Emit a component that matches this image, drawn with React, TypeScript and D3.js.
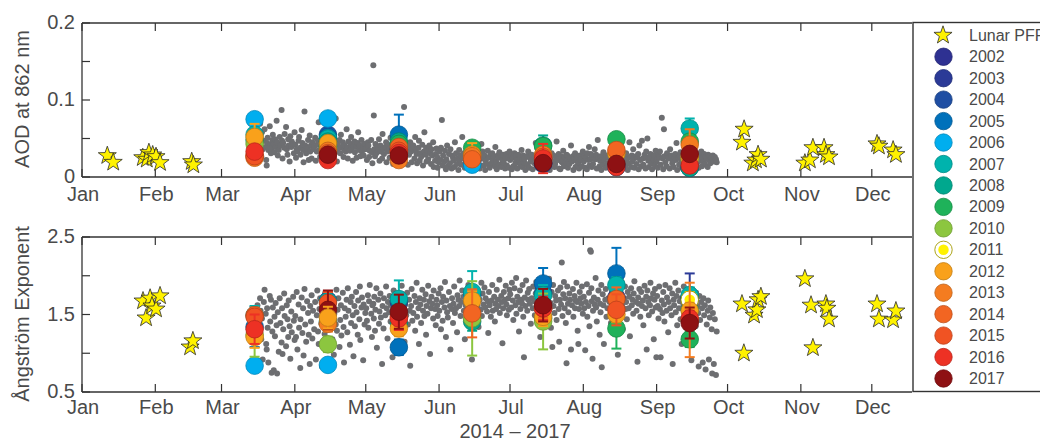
import React from 'react';
import * as d3 from 'd3';

// ---- data -------------------------------------------------------------

const monthStarts = [0, 31, 59, 90, 120, 151, 181, 212, 243, 273, 304, 334];
const monthLabels = ['Jan', 'Feb', 'Mar', 'Apr', 'May', 'Jun', 'Jul', 'Aug', 'Sep', 'Oct', 'Nov', 'Dec'];

const aodTicks = [0, 0.05, 0.1, 0.15, 0.2];
const aodTickLabels = ['0', '', '0.1', '', '0.2'];
const alphaTicks = [0.5, 1, 1.5, 2, 2.5];
const alphaTickLabels = ['0.5', '', '1.5', '', '2.5'];

// mid-month day of year for the monthly climatology (Mar .. Sep)
const midMonthDays = [73, 104, 134, 165, 195, 226, 257];

const years = [2002, 2003, 2004, 2005, 2006, 2007, 2008, 2009, 2010, 2011, 2012, 2013, 2014, 2015, 2016, 2017];

// Lunar photometer, [day of year, AOD]
const lunarAod: [number, number][] = [
  [10.7, 0.0277], [13.2, 0.019], [25.7, 0.025], [27.4, 0.023], [28.3, 0.0316], [29.9, 0.0286],
  [31.3, 0.0264], [33, 0.0186], [46.4, 0.0199], [47.1, 0.0156],
  [279.1, 0.045], [280, 0.062], [283.7, 0.018], [285, 0.022], [285.9, 0.029], [287.1, 0.023],
  [305.7, 0.018], [307.8, 0.022], [309.1, 0.038], [313.8, 0.038], [314.6, 0.029], [315.9, 0.026],
  [336.2, 0.043], [337, 0.04], [343, 0.035], [344.2, 0.029],
];

// Lunar photometer, [day of year, Angstrom exponent]
const lunarAlpha: [number, number][] = [
  [25.8, 1.674], [27.1, 1.455], [28.8, 1.71], [29.6, 1.61], [31.3, 1.57], [33, 1.74],
  [45.7, 1.08], [46.9, 1.16],
  [279.1, 1.635], [279.9, 1.0], [284.2, 1.49], [285.4, 1.56], [285.9, 1.69], [287.1, 1.73],
  [305.7, 1.96], [308.3, 1.62], [309.1, 1.07], [314.6, 1.635], [315, 1.58], [315.9, 1.44],
  [336.2, 1.635], [337, 1.44], [343, 1.43], [344.2, 1.545],
];

// Sun photometer 2014-2017, [day of year, AOD 862 nm, Angstrom exponent]
const sunObs: [number, number, number][] = [
  [74.2,0.045,1.62],[74.6,0.038,1.38],[74.9,0.052,1.25],[75.3,0.069,1.71],[75.5,0.041,1.55],[75.8,0.027,1.18],
  [76.1,0.058,1.45],[76.4,0.036,0.92],[76.9,0.047,1.66],[77.2,0.062,1.82],[77.7,0.039,1.51],[77.9,0.022,1.12],
  [78.3,0.044,1.58],[78.5,0.051,1.33],[78.8,0.035,0.88],[78.1,0.015,1.05],[79.4,0.066,1.74],[79.6,0.042,1.41],
  [79.9,0.031,1.69],[80.2,0.037,0.75],[80.5,0.048,1.28],[80.7,0.055,1.59],[81.1,0.043,0.78],[81.4,0.032,1.47],
  [81.6,0.049,1.22],[81.9,0.039,1.65],[82.3,0.073,1.36],[82.5,0.045,0.74],[82.8,0.028,1.53],[83.2,0.035,1.02],
  [83.6,0.052,1.71],[83.9,0.041,1.39],[84.4,0.087,1.14],[84.6,0.047,1.58],[84.8,0.024,0.99],[85.1,0.044,1.31],
  [85.5,0.038,1.77],[85.7,0.056,1.48],[86.3,0.065,1.09],[86.6,0.036,1.62],[86.9,0.029,1.44],[87.2,0.049,1.21],
  [87.4,0.041,1.68],[87.8,0.020,1.35],[88.1,0.053,0.93],[88.5,0.039,1.54],[88.7,0.046,1.27],[89.3,0.043,1.73],
  [89.6,0.031,1.42],[89.9,0.058,1.17],
  [90.2,0.042,1.48],[90.5,0.025,1.21],[90.8,0.036,1.79],[91.1,0.033,1.05],[91.6,0.047,1.63],[91.8,0.052,1.33],
  [92.3,0.038,0.81],[92.4,0.029,1.44],[92.9,0.061,1.72],[93.2,0.044,1.26],[93.5,0.035,1.58],[93.7,0.019,0.97],
  [94.1,0.085,1.83],[94.4,0.041,1.37],[94.8,0.031,1.15],[95.2,0.037,1.67],[95.6,0.048,1.52],[95.9,0.022,1.24],
  [96.3,0.054,0.86],[96.5,0.033,1.61],[96.8,0.041,1.41],[97.1,0.024,1.75],[97.4,0.045,1.19],[97.7,0.036,1.55],
  [98.2,0.039,1.31],[98.6,0.051,1.66],[98.9,0.021,0.92],[99.3,0.033,1.49],[99.5,0.042,1.81],[99.8,0.047,1.28],
  [100.1,0.071,1.12],[100.4,0.035,1.57],[100.7,0.026,1.71],[101.2,0.043,1.38],[101.5,0.031,0.83],[101.9,0.038,1.63],
  [102.2,0.023,1.54],[102.6,0.049,1.25],[102.8,0.034,1.77],[103.3,0.058,1.46],[103.5,0.037,1.06],[103.7,0.029,1.69],
  [104.2,0.044,1.33],[104.8,0.032,1.59],[105.1,0.039,1.74],[105.4,0.053,1.42],[105.9,0.027,1.18],[106.2,0.035,1.65],
  [106.5,0.046,0.98],[106.7,0.041,1.51],[107.3,0.076,1.37],[107.6,0.033,1.82],[107.8,0.020,1.29],[108.1,0.042,1.56],
  [108.4,0.037,1.71],[108.9,0.048,1.08],[109.2,0.031,1.43],[109.5,0.055,1.62],[109.7,0.039,1.23],[110.3,0.045,1.78],
  [110.6,0.026,1.34],[110.8,0.036,0.88],[111.1,0.041,1.58],[111.5,0.033,1.47],[111.9,0.062,1.69],[112.2,0.038,1.27],
  [112.4,0.024,1.84],[112.7,0.046,1.55],[113.3,0.034,1.11],[113.6,0.043,1.66],[113.8,0.052,1.39],[114.1,0.037,1.73],
  [114.5,0.021,1.49],[114.8,0.040,0.96],[115.2,0.046,1.61],[115.4,0.032,1.35],[115.9,0.039,1.79],[116.1,0.025,1.53],
  [116.6,0.044,1.24],[116.8,0.058,1.68],[117.3,0.035,1.44],[117.5,0.041,1.86],[117.7,0.027,1.17],[118.2,0.048,1.59],
  [118.4,0.033,1.72],[118.9,0.038,0.91],[119.1,0.028,1.63],[119.5,0.043,1.37],[119.8,0.036,1.52],
  [120.2,0.037,1.58],[120.5,0.022,1.42],[120.9,0.045,1.75],[121.1,0.041,1.33],[121.4,0.026,1.67],[121.7,0.034,1.88],
  [122.3,0.048,1.51],[122.6,0.032,1.21],[122.8,0.018,1.62],[123.2,0.145,1.64],[123.4,0.080,1.45],[123.6,0.036,1.73],
  [123.9,0.027,1.29],[124.1,0.043,1.56],[124.5,0.031,1.84],[124.7,0.039,1.07],[125.3,0.035,1.69],[125.6,0.049,1.38],
  [125.8,0.021,1.54],[126.2,0.041,1.77],[126.4,0.033,1.46],[126.9,0.024,0.86],[127.1,0.056,1.61],[127.5,0.037,1.32],
  [127.7,0.030,1.71],[128.3,0.039,1.49],[128.6,0.045,1.86],[128.8,0.019,1.58],[129.2,0.033,1.19],[129.4,0.042,1.66],
  [129.9,0.036,1.53],[130.1,0.025,1.74],[130.5,0.051,1.41],[130.7,0.038,1.62],[131.3,0.034,0.95],[131.6,0.017,1.57],
  [131.8,0.044,1.81],[132.2,0.040,1.36],[132.4,0.029,1.69],[132.9,0.037,1.48],[133.1,0.022,1.59],[133.5,0.047,1.77],
  [133.7,0.035,1.26],[134.3,0.032,1.64],[134.8,0.041,1.52],[135.2,0.038,1.87],[135.5,0.020,1.44],[135.9,0.030,1.71],
  [136.2,0.091,1.58],[136.4,0.034,1.15],[136.7,0.027,1.63],[137.1,0.043,1.49],[137.5,0.036,1.78],[137.8,0.016,1.37],
  [138.3,0.029,1.69],[138.6,0.039,1.55],[138.8,0.045,0.84],[139.2,0.033,1.61],[139.4,0.019,1.83],[139.7,0.037,1.42],
  [140.1,0.041,1.52],[140.6,0.024,1.74],[140.9,0.052,1.29],[141.2,0.035,1.66],[141.5,0.030,1.91],[141.7,0.018,1.47],
  [142.3,0.038,1.58],[142.5,0.047,1.12],[142.8,0.021,1.71],[143.1,0.031,1.63],[143.4,0.026,1.39],[143.9,0.042,1.82],
  [144.2,0.015,1.55],[144.6,0.033,1.69],[144.8,0.058,1.48],[145.3,0.029,1.76],[145.5,0.038,1.24],[145.7,0.020,1.61],
  [146.1,0.034,1.51],[146.4,0.023,1.87],[146.9,0.041,1.67],[147.2,0.031,0.99],[147.6,0.017,1.58],[147.8,0.036,1.73],
  [148.1,0.028,1.64],[148.5,0.045,1.45],[148.7,0.013,1.81],[149.3,0.021,1.57],[149.6,0.030,1.36],[149.9,0.037,1.69],
  [150.2,0.026,1.62],[150.4,0.012,1.48],[150.8,0.019,1.77],[151.1,0.033,1.55],[151.6,0.022,1.84],[151.8,0.038,1.31],
  [152.2,0.074,1.66],[152.5,0.015,1.42],[152.7,0.028,1.73],[153.3,0.020,1.59],[153.5,0.034,1.92],[153.9,0.010,1.21],
  [154.1,0.023,1.68],[154.4,0.041,1.53],[154.7,0.014,1.46],[155.2,0.030,1.79],[155.6,0.018,1.61],[155.8,0.036,1.05],
  [156.3,0.011,1.57],[156.5,0.028,1.71],[156.9,0.025,1.39],[157.1,0.021,1.64],[157.4,0.013,1.86],[157.7,0.045,1.52],
  [158.2,0.031,1.58],[158.6,0.017,1.27],[158.8,0.024,1.75],[159.2,0.009,1.69],[159.5,0.035,1.61],[159.7,0.022,1.94],
  [160.1,0.028,1.48],[160.4,0.016,1.66],[160.8,0.052,1.81],[161.3,0.024,1.73],[161.5,0.031,1.55],[161.9,0.012,1.18],
  [162.2,0.027,1.62],[162.6,0.019,1.79],[162.8,0.036,1.43],[163.1,0.014,1.57],[163.4,0.029,1.88],[163.7,0.022,1.69],
  [164.3,0.032,1.51],[164.5,0.010,1.64],[164.9,0.025,0.92],[165.2,0.018,1.76],[165.7,0.028,1.58],[166.1,0.035,1.67],
  [166.4,0.024,1.45],[166.8,0.013,1.82],[167.3,0.020,1.61],[167.5,0.030,1.73],[167.7,0.016,1.34],[168.2,0.011,1.69],
  [168.6,0.027,1.56],[168.9,0.043,1.91],[169.1,0.024,1.48],[169.4,0.033,1.77],[169.8,0.015,1.63],[170.2,0.028,1.85],
  [170.5,0.009,1.59],[170.7,0.021,1.71],[171.3,0.017,1.54],[171.6,0.034,1.67],[171.8,0.025,1.26],[172.1,0.026,1.79],
  [172.4,0.012,1.62],[172.9,0.030,1.47],[173.2,0.018,1.68],[173.5,0.031,1.88],[173.7,0.022,1.55],[174.3,0.027,1.73],
  [174.6,0.014,1.41],[174.8,0.039,1.64],[175.1,0.020,1.57],[175.4,0.010,1.82],[175.9,0.028,1.69],[176.2,0.025,1.61],
  [176.5,0.032,1.95],[176.7,0.016,1.52],[177.3,0.013,1.74],[177.6,0.027,1.66],[177.8,0.021,1.13],[178.1,0.029,1.58],
  [178.4,0.018,1.79],[178.9,0.011,1.69],[179.2,0.024,1.87],[179.5,0.030,1.63],[179.7,0.015,1.49],[180.3,0.026,1.71],
  [180.5,0.012,1.56],[180.8,0.033,1.82],
  [181.1,0.022,1.76],[181.5,0.028,1.59],[181.8,0.010,1.91],[182.2,0.025,1.68],[182.4,0.014,1.43],[182.9,0.031,1.84],
  [183.3,0.018,1.62],[183.6,0.027,1.97],[183.7,0.022,1.51],[184.1,0.011,1.73],[184.5,0.029,1.66],[184.8,0.020,1.28],
  [185.2,0.026,1.81],[185.4,0.016,1.57],[185.9,0.035,1.69],[186.1,0.013,1.64],[186.3,0.023,1.88],[186.6,0.028,1.47],
  [186.9,0.019,0.95],[187.2,0.024,1.72],[187.5,0.009,1.61],[187.8,0.017,1.94],[188.3,0.027,1.55],[188.5,0.015,1.78],
  [188.7,0.033,1.69],[189.1,0.012,1.83],[189.4,0.025,1.64],[189.8,0.020,1.38],[190.2,0.029,1.71],[190.6,0.010,1.58],
  [190.8,0.021,1.86],[191.3,0.018,1.67],[191.5,0.026,1.49],[191.9,0.044,1.77],[192.1,0.024,1.92],[192.4,0.013,1.63],
  [192.7,0.030,1.55],[193.2,0.011,1.74],[193.6,0.022,1.81],[193.8,0.027,1.21],[194.1,0.019,1.66],[194.4,0.032,1.59],
  [194.9,0.014,1.87],[195.3,0.025,1.69],[195.6,0.016,1.77],[196.2,0.021,1.62],[196.4,0.028,1.45],[196.7,0.036,1.84],
  [197.1,0.012,1.71],[197.5,0.024,1.96],[197.8,0.009,1.58],[198.2,0.026,1.65],[198.3,0.018,1.33],[198.6,0.031,1.79],
  [198.9,0.015,1.08],[199.2,0.020,1.88],[199.4,0.028,1.61],[199.8,0.013,1.52],[200.1,0.017,1.74],[200.5,0.025,1.68],
  [200.7,0.046,1.43],[201.3,0.022,1.81],[201.6,0.030,1.57],[201.8,0.011,1.15],[202.1,0.024,1.69],[202.3,0.010,1.85],
  [202.6,0.027,1.63],[202.9,0.019,2.17],[203.2,0.021,1.48],[203.5,0.034,1.76],[203.8,0.014,1.92],[204.1,0.026,1.58],
  [204.3,0.016,1.71],[204.6,0.019,1.39],[204.9,0.029,0.87],[205.2,0.028,1.86],[205.5,0.012,1.64],[205.7,0.023,1.53],
  [206.1,0.017,1.77],[206.4,0.025,1.69],[206.8,0.041,1.05],[207.2,0.020,1.62],[207.6,0.027,1.83],[207.8,0.009,1.47],
  [208.3,0.024,1.74],[208.5,0.031,1.58],[208.7,0.013,1.68],[209.1,0.021,1.91],[209.3,0.026,1.66],[209.6,0.015,1.29],
  [209.9,0.019,1.12],[210.2,0.011,1.57],[210.5,0.028,1.79],[210.8,0.022,1.71],[211.1,0.023,1.64],[211.4,0.014,1.86],
  [211.8,0.033,1.51],
  [212.2,0.020,1.73],[212.4,0.027,1.58],[212.8,0.012,1.04],[213.1,0.025,1.66],[213.5,0.010,1.89],[213.7,0.031,1.47],
  [214.2,0.022,1.61],[214.4,0.039,1.78],[214.6,0.015,1.35],[214.9,0.023,2.33],[215.2,0.030,2.31],[215.4,0.026,1.84],
  [215.6,0.013,1.67],[215.9,0.028,0.93],[216.1,0.017,1.55],[216.5,0.024,1.72],[216.8,0.036,1.63],[217.2,0.023,1.97],
  [217.4,0.029,1.59],[217.7,0.011,1.41],[218.1,0.048,1.69],[218.4,0.025,1.81],[218.9,0.014,1.24],[219.1,0.021,1.64],
  [219.3,0.027,1.53],[219.6,0.009,1.88],[219.8,0.022,0.82],[220.2,0.016,1.76],[220.5,0.032,1.62],[220.7,0.022,1.12],
  [221.3,0.026,1.69],[221.5,0.012,1.83],[221.8,0.028,1.47],[222.2,0.018,1.58],[222.6,0.025,1.71],[223.1,0.014,1.66],
  [223.7,0.024,1.39],[224.2,0.021,1.79],[224.4,0.030,1.55],[224.8,0.042,1.64],[225.1,0.025,1.87],[225.5,0.010,1.48],
  [225.7,0.019,1.72],[226.3,0.028,1.61],[226.6,0.017,0.98],[227.1,0.013,1.75],[227.4,0.026,1.68],[227.8,0.034,1.53],
  [228.2,0.024,1.92],[228.5,0.011,1.63],[228.7,0.029,1.31],[229.3,0.020,1.71],[229.6,0.027,1.86],[229.9,0.015,1.57],
  [230.1,0.031,1.66],[230.4,0.023,1.44],[230.8,0.009,1.79],[231.2,0.018,1.58],[231.5,0.045,1.73],[231.7,0.026,1.22],
  [232.2,0.013,1.84],[232.5,0.028,1.62],[232.8,0.020,1.69],[233.1,0.036,1.51],[233.3,0.024,1.77],[233.6,0.012,1.93],
  [234.3,0.027,1.66],[234.5,0.017,1.55],[234.9,0.025,0.89],[235.2,0.030,1.72],[235.4,0.010,1.64],[235.7,0.041,1.83],
  [236.1,0.022,1.47],[236.5,0.014,1.79],[236.8,0.047,1.61],[237.2,0.024,1.68],[237.4,0.016,1.36],[237.9,0.029,1.87],
  [238.3,0.011,1.58],[238.6,0.033,1.73],[238.8,0.025,1.05],[239.1,0.050,1.81],[239.5,0.021,1.66],[239.7,0.013,1.49],
  [240.2,0.026,1.62],[240.4,0.030,1.91],[240.7,0.018,1.71],[241.1,0.010,1.54],[241.5,0.027,1.77],[241.8,0.022,1.18],
  [242.1,0.028,1.69],[242.3,0.015,1.83],[242.6,0.034,1.59],[242.9,0.020,0.95],
  [243.2,0.023,1.74],[243.5,0.012,1.61],[243.8,0.029,1.45],[244.1,0.026,1.86],[244.4,0.033,1.57],[244.7,0.016,0.95],
  [245.2,0.077,1.68],[245.5,0.024,1.52],[245.8,0.010,1.79],[246.1,0.062,1.63],[246.3,0.027,1.41],[246.7,0.019,1.88],
  [247.2,0.014,1.55],[247.4,0.031,1.72],[247.9,0.025,1.27],[248.1,0.024,1.66],[248.5,0.011,1.84],[248.7,0.036,1.58],
  [249.3,0.028,1.49],[249.6,0.018,1.77],[249.8,0.021,0.86],[250.2,0.013,1.69],[250.4,0.026,1.62],[250.9,0.030,1.91],
  [251.1,0.022,1.53],[251.4,0.044,1.74],[251.7,0.009,1.36],[252.2,0.025,1.81],[252.5,0.016,1.58],[252.8,0.027,1.67],
  [253.1,0.032,1.44],[253.4,0.020,1.71],[253.6,0.012,1.12],[254.3,0.021,1.63],[254.5,0.028,1.86],[254.8,0.015,1.55],
  [255.2,0.026,1.77],[255.4,0.011,1.48],[255.9,0.035,1.69],[256.2,0.023,1.58],[256.6,0.014,1.21],[257.1,0.029,1.73],
  [257.5,0.018,1.64],[257.7,0.025,0.91],[258.2,0.010,1.82],[258.4,0.027,1.57],[258.8,0.038,1.46],[259.1,0.024,1.69],
  [259.5,0.015,1.35],[259.7,0.031,1.78],[260.3,0.019,1.61],[260.6,0.026,1.52],[260.8,0.012,0.83],[261.1,0.028,1.74],
  [261.4,0.021,1.43],[261.9,0.033,1.66],[262.2,0.014,1.58],[262.5,0.025,0.88],[262.8,0.020,1.71],[263.1,0.030,1.49],
  [263.4,0.017,1.62],[263.7,0.026,0.79],[264.2,0.024,1.37],[264.6,0.013,1.55],[264.8,0.029,1.68],[265.1,0.022,0.92],
  [265.5,0.027,1.46],[265.7,0.018,1.59],[266.3,0.025,1.31],[266.5,0.021,0.74],[266.8,0.028,1.52],[267.2,0.020,0.86],
  [267.6,0.026,1.44],[268.1,0.023,0.72],[268.4,0.019,1.28],
];

// Monthly means of AOD, [year, month index into midMonthDays, mean, std]; drawn in this order
const aodMeans: [number, number, number, number][] = [
  [2006,0,0.075,0.004],[2007,0,0.055,0.006],[2008,0,0.048,0.005],[2010,0,0.043,0.005],[2012,0,0.052,0.017],
  [2013,0,0.025,0.004],[2014,0,0.028,0.004],[2015,0,0.027,0.004],[2016,0,0.033,0.005],
  [2004,1,0.055,0.005],[2005,1,0.052,0.005],[2006,1,0.076,0.008],[2007,1,0.050,0.006],[2008,1,0.046,0.005],
  [2009,1,0.040,0.005],[2010,1,0.037,0.004],[2012,1,0.044,0.006],[2013,1,0.034,0.004],[2014,1,0.031,0.004],
  [2016,1,0.022,0.004],[2017,1,0.029,0.004],
  [2004,2,0.036,0.004],[2005,2,0.055,0.026],[2008,2,0.046,0.005],[2009,2,0.043,0.005],[2012,2,0.033,0.004],
  [2013,2,0.022,0.004],[2014,2,0.039,0.006],[2015,2,0.034,0.005],[2016,2,0.031,0.005],[2017,2,0.028,0.005],
  [2004,3,0.020,0.003],[2005,3,0.018,0.003],[2006,3,0.016,0.003],[2009,3,0.038,0.005],[2012,3,0.029,0.015],
  [2013,3,0.027,0.004],[2014,3,0.023,0.004],
  [2002,4,0.018,0.003],[2004,4,0.017,0.003],[2008,4,0.041,0.013],[2009,4,0.040,0.005],[2012,4,0.027,0.004],
  [2013,4,0.029,0.005],[2014,4,0.026,0.004],[2015,4,0.022,0.004],[2016,4,0.024,0.019],[2017,4,0.018,0.004],
  [2002,5,0.013,0.002],[2005,5,0.014,0.003],[2006,5,0.013,0.003],[2009,5,0.049,0.006],[2012,5,0.031,0.004],
  [2014,5,0.035,0.005],[2016,5,0.013,0.003],[2017,5,0.017,0.003],
  [2002,6,0.012,0.002],[2005,6,0.013,0.003],[2007,6,0.063,0.013],[2008,6,0.012,0.003],[2009,6,0.046,0.006],
  [2011,6,0.024,0.004],[2012,6,0.027,0.004],[2013,6,0.042,0.020],[2016,6,0.015,0.003],[2017,6,0.030,0.005],
];

// Monthly means of the Angstrom exponent, [year, month index, mean, std]; drawn in this order
const alphaMeans: [number, number, number, number][] = [
  [2005,0,1.34,0.26],[2006,0,0.84,0.08],[2007,0,1.49,0.12],[2010,0,1.235,0.28],[2012,0,1.21,0.14],
  [2014,0,1.49,0.10],[2015,0,1.47,0.10],[2016,0,1.31,0.19],
  [2004,1,1.68,0.12],[2006,1,0.85,0.05],[2007,1,1.67,0.12],[2008,1,1.41,0.12],[2010,1,1.115,0.10],
  [2013,1,1.38,0.10],[2015,1,1.65,0.14],[2017,1,1.56,0.25],[2012,1,1.46,0.14],
  [2004,2,1.665,0.12],[2005,2,1.077,0.10],[2007,2,1.70,0.24],[2008,2,1.39,0.10],[2012,2,1.32,0.10],
  [2014,2,1.47,0.12],[2016,2,1.45,0.15],[2017,2,1.536,0.22],
  [2004,3,1.75,0.10],[2006,3,1.72,0.10],[2007,3,1.79,0.27],[2008,3,1.41,0.12],[2010,3,1.45,0.48],
  [2012,3,1.68,0.12],[2014,3,1.515,0.31],
  [2004,4,1.78,0.10],[2005,4,1.90,0.20],[2007,4,1.75,0.13],[2008,4,1.45,0.12],[2010,4,1.41,0.36],
  [2012,4,1.47,0.12],[2014,4,1.58,0.12],[2016,4,1.58,0.15],[2017,4,1.62,0.21],
  [2003,5,1.72,0.10],[2005,5,2.03,0.33],[2007,5,1.88,0.10],[2009,5,1.32,0.26],[2012,5,1.50,0.10],
  [2014,5,1.70,0.15],[2015,5,1.56,0.20],
  [2002,6,1.72,0.10],[2003,6,1.71,0.32],[2005,6,1.70,0.10],[2007,6,1.75,0.10],[2008,6,1.56,0.10],
  [2009,6,1.18,0.10],[2011,6,1.69,0.10],[2012,6,1.55,0.10],[2013,6,1.43,0.48],[2016,6,1.45,0.10],
  [2017,6,1.39,0.20],
];

// ---- styles -----------------------------------------------------------

const yearPalette = [
  '#2e3192', '#2b3a97', '#1f4ea3', '#0071bb', '#00aeef', '#00b3ad', '#00a88e', '#1fb25a',
  '#8cc63f', '#fff200', '#f9a11b', '#f47c20', '#f26522', '#f05323', '#ed3124', '#8e1113',
];
const colorOf = (y: number) => yearPalette[years.indexOf(y)];

const FONT = '"Liberation Sans", Arial, Helvetica, sans-serif';
const TEXT = '#4a4a4a';
const AXIS = '#333';
const DOT = '#6d6e71';
const STAR_FILL = '#fff200';

const W = 1040;
const H = 443;
const X0 = 82;
const X1 = 912;

const x = d3.scaleLinear().domain([0, 351]).range([X0, X1]);
const yAod = d3.scaleLinear().domain([0, 0.2]).range([177, 23]);
const yAlpha = d3.scaleLinear().domain([0.5, 2.5]).range([392, 237]);

function starPath(R: number) {
  const r = R * 0.4;
  const pts: [number, number][] = d3.range(10).map((i) => {
    const a = -Math.PI / 2 + (i * Math.PI) / 5;
    const rad = i % 2 === 0 ? R : r;
    return [rad * Math.cos(a), rad * Math.sin(a)];
  });
  return d3.line()(pts) + 'Z';
}
const STAR = starPath(9.5);

function YearMarker({ cx, cy, year, r }: { cx: number; cy: number; year: number; r: number }) {
  if (year === 2011) {
    return (
      <g>
        <circle cx={cx} cy={cy} r={r} fill="#fff" stroke="#a39a00" strokeWidth={0.9} />
        <circle cx={cx} cy={cy} r={r * 0.6} fill={STAR_FILL} />
      </g>
    );
  }
  const c = colorOf(year);
  return <circle cx={cx} cy={cy} r={r} fill={c} stroke={d3.color(c)!.darker(0.7).formatHex()} strokeWidth={0.8} />;
}

function Panel({
  y, ticks, tickLabels, title, titleY, lunar, obs, means, labelBaseline,
}: {
  y: d3.ScaleLinear<number, number>;
  ticks: number[];
  tickLabels: string[];
  title: string;
  titleY: number;
  lunar: [number, number][];
  obs: [number, number][];
  means: [number, number, number, number][];
  labelBaseline: number;
}) {
  const [yb, yt] = y.range();
  return (
    <g>
      {/* frame */}
      <line x1={X0} x2={X1} y1={yt} y2={yt} stroke={AXIS} strokeWidth={1.3} />
      <line x1={X0} x2={X1} y1={yb} y2={yb} stroke={AXIS} strokeWidth={1.3} />
      <line x1={X0} x2={X0} y1={yt} y2={yb} stroke={AXIS} strokeWidth={1.3} />
      {monthStarts.map((d, i) => (
        <g key={i}>
          <line x1={x(d)} x2={x(d)} y1={yt} y2={yt + 8} stroke={AXIS} strokeWidth={1.2} />
          <line x1={x(d)} x2={x(d)} y1={yb} y2={yb - 8} stroke={AXIS} strokeWidth={1.2} />
          <text x={x(d) + 1} y={labelBaseline} textAnchor="middle" fontSize={20} fill={TEXT} fontFamily={FONT}>
            {monthLabels[i]}
          </text>
        </g>
      ))}
      {ticks.map((t, i) => (
        <g key={t}>
          <line x1={X0} x2={X0 + 8} y1={y(t)} y2={y(t)} stroke={AXIS} strokeWidth={1.2} />
          {tickLabels[i] && (
            <text x={75} y={y(t) + 6} textAnchor="end" fontSize={20} fill={TEXT} fontFamily={FONT}>
              {tickLabels[i]}
            </text>
          )}
        </g>
      ))}
      <text
        transform={`translate(29,${titleY}) rotate(-90)`}
        textAnchor="middle"
        fontSize={20}
        fill={TEXT}
        fontFamily={FONT}
      >
        {title}
      </text>

      {/* sun photometer observations */}
      {obs.map(([d, v], i) => (
        <circle key={i} cx={x(d)} cy={y(v)} r={3} fill={DOT} />
      ))}

      {/* lunar photometer */}
      {lunar.map(([d, v], i) => (
        <path key={i} d={STAR} transform={`translate(${x(d)},${y(v)})`} fill={STAR_FILL} stroke="#2a2a2a" strokeWidth={0.8} />
      ))}

      {/* monthly climatology per year */}
      {means.map(([yr, m, mean, sd], i) => {
        const cx = x(midMonthDays[m]);
        const col = yr === 2011 ? '#e8dc00' : colorOf(yr);
        const top = y(mean + sd);
        const bot = y(mean - sd);
        return (
          <g key={i}>
            <line x1={cx} x2={cx} y1={top} y2={bot} stroke={col} strokeWidth={2} />
            <line x1={cx - 5} x2={cx + 5} y1={top} y2={top} stroke={col} strokeWidth={2} />
            <line x1={cx - 5} x2={cx + 5} y1={bot} y2={bot} stroke={col} strokeWidth={2} />
            <YearMarker cx={cx} cy={y(mean)} year={yr} r={8.8} />
          </g>
        );
      })}
    </g>
  );
}

export default function App() {
  const legendRowY = (i: number) => 35.3 + i * 21.45;
  return (
    <svg
      width={W}
      height={H}
      viewBox={`0 0 ${W} ${H}`}
      style={{ position: 'absolute', left: 0, top: 0, background: '#fff' }}
    >
      <rect width={W} height={H} fill="#fff" />
      <Panel
        y={yAod}
        ticks={aodTicks}
        tickLabels={aodTickLabels}
        title="AOD at 862 nm"
        titleY={99}
        lunar={lunarAod}
        obs={sunObs.map((o) => [o[0], o[1]] as [number, number])}
        means={aodMeans}
        labelBaseline={201}
      />
      <Panel
        y={yAlpha}
        ticks={alphaTicks}
        tickLabels={alphaTickLabels}
        title="Ångström Exponent"
        titleY={314}
        lunar={lunarAlpha}
        obs={sunObs.map((o) => [o[0], o[2]] as [number, number])}
        means={alphaMeans}
        labelBaseline={414}
      />
      <text x={515} y={438} textAnchor="middle" fontSize={20} fill={TEXT} fontFamily={FONT}>
        2014 – 2017
      </text>

      {/* legend */}
      <rect x={913} y={22.5} width={140} height={369} fill="#fff" stroke={AXIS} strokeWidth={1.4} />
      <path d={STAR} transform={`translate(943,${legendRowY(0)})`} fill={STAR_FILL} stroke="#2a2a2a" strokeWidth={0.8} />
      <text x={969} y={legendRowY(0) + 5.5} fontSize={16} fill={TEXT} fontFamily={FONT}>
        Lunar PFR
      </text>
      {years.map((yr, i) => (
        <g key={yr}>
          <YearMarker cx={943.5} cy={legendRowY(i + 1)} year={yr} r={8.7} />
          <text x={969} y={legendRowY(i + 1) + 5.5} fontSize={16} fill={TEXT} fontFamily={FONT}>
            {yr}
          </text>
        </g>
      ))}
    </svg>
  );
}
